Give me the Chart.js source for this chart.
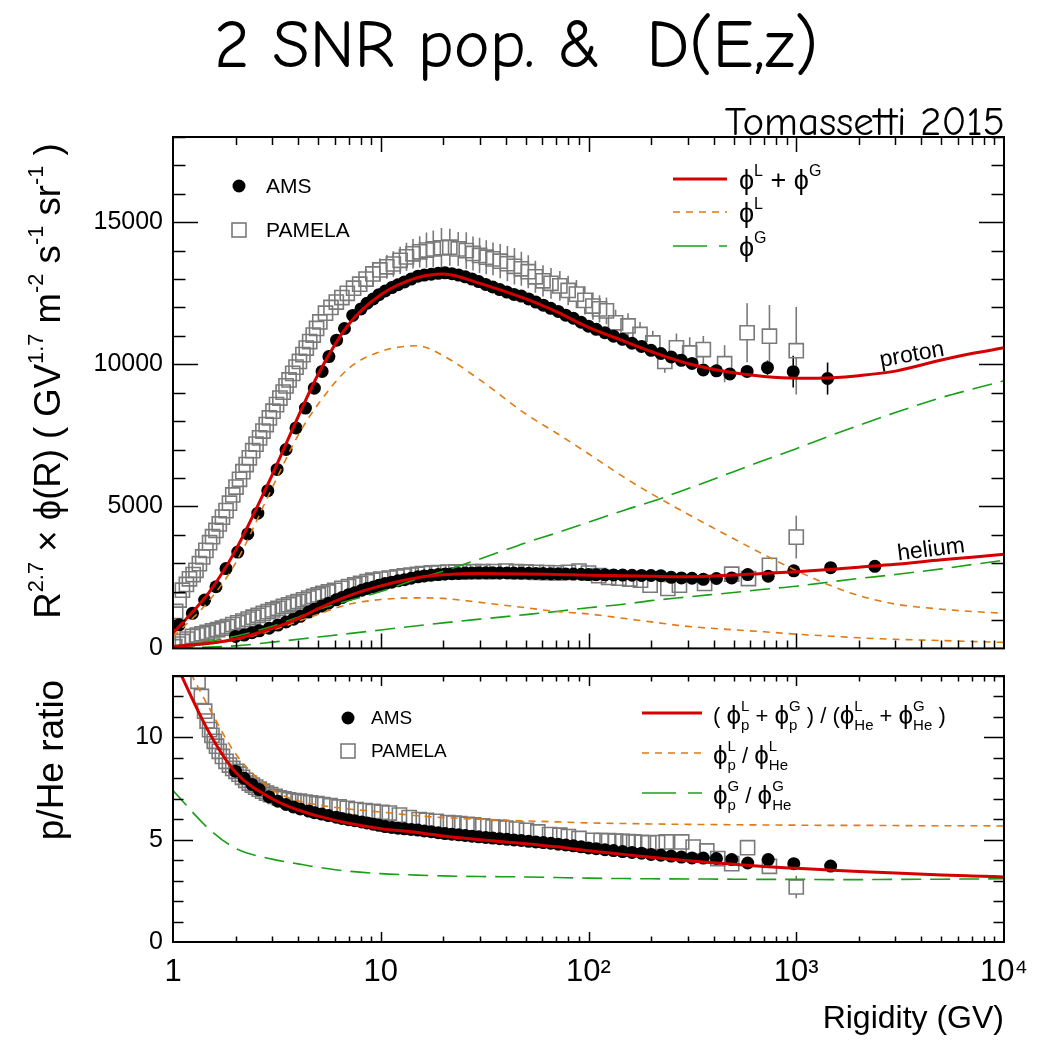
<!DOCTYPE html>
<html><head><meta charset="utf-8">
<script src="https://cdn.jsdelivr.net/npm/chart.js@4.4.1/dist/chart.umd.min.js"></script>
<style>
html,body{margin:0;padding:0;background:#fff;}
#wrap{position:relative;width:1050px;height:1041px;overflow:hidden;background:#fff;font-family:"Liberation Sans",Arial,Helvetica,sans-serif;}
canvas{position:absolute;left:0;}
#c1{top:0;}
#c2{top:660px;}
.t{position:absolute;white-space:nowrap;color:#000;line-height:1;}
.t sup{font-size:0.6em;vertical-align:0.75em;line-height:0;}
#title{left:516px;top:45px;transform:translate(-50%,-50%);font-family:"Comic Sans MS","Comic Neue","Noto Sans",sans-serif;font-size:68px;}
#auth{right:45px;top:121px;transform:translateY(-50%);font-family:"Comic Sans MS","Comic Neue","Noto Sans",sans-serif;font-size:41px;}
#ytop{left:48px;top:381px;transform:translate(-50%,-50%) rotate(-90deg);font-size:36.5px;}
#ybot{left:50px;top:760px;transform:translate(-50%,-50%) rotate(-90deg);font-size:37px;}
</style></head><body>
<div id="wrap">
<canvas id="c1" width="1050" height="660" style="width:1050px;height:660px"></canvas>
<canvas id="c2" width="1050" height="381" style="width:1050px;height:381px"></canvas>
<div class="t" id="title">2 SNR pop. &amp;&nbsp; D(E,z)</div>
<div class="t" id="auth">Tomassetti 2015</div>
<div class="t" id="ytop">R<sup>2.7</sup> × ϕ(R) ( GV<sup>1.7</sup> m<sup>-2</sup> s<sup>-1</sup> sr<sup>-1</sup> )</div>
<div class="t" id="ybot">p/He ratio</div>
</div>
<script>
// ---------------- DATA ----------------
const X_TICKS = [1, 10, 100, 1000, 10000];
const X_LABELS = ['1', '10', '10²', '10³', '10⁴'];
const Y_TICKS_TOP = [0, 5000, 10000, 15000];
const Y_TICKS_BOT = [0, 5, 10];

// model curves (rigidity grid, GV)
const R_GRID = [1,1.5,2,3,4,5,7,10,15,20,30,50,70,100,150,200,300,500,700,1000,1500,2000,3000,5000,7000,10000];
const P_TOT  = [530,2000,3450,6100,8150,9650,11400,12450,13050,13180,12850,12300,11850,11300,10800,10450,10030,9700,9570,9510,9530,9600,9760,10150,10380,10580];
const P_LOC  = [400,1700,3000,5650,7500,8600,9850,10450,10650,10300,9450,8250,7580,6850,6000,5450,4730,3860,3300,2740,2180,1860,1560,1380,1300,1240];
const P_GAL  = [80,250,430,780,1100,1370,1680,2000,2450,2720,3150,3720,4060,4440,4875,5160,5620,6220,6620,7030,7520,7850,8300,8830,9120,9420];
const HE_TOT = [70,180,330,700,1050,1400,1850,2200,2490,2590,2635,2620,2600,2577,2560,2540,2520,2580,2640,2700,2790,2860,2960,3120,3210,3310];
const HE_LOC = [60,160,300,640,950,1200,1550,1720,1780,1760,1620,1430,1300,1213,1050,935,775,655,585,500,427,373,320,276,245,210];
const HE_GAL = [15,45,90,220,320,400,520,650,800,900,1030,1190,1300,1430,1560,1680,1810,1970,2080,2190,2350,2460,2600,2800,2950,3100];
const RAT_TOT = [13.9,10.2,8.3,7.0,6.45,6.15,5.8,5.54,5.35,5.18,5.0,4.8,4.65,4.46,4.27,4.14,3.97,3.8,3.69,3.6,3.51,3.45,3.37,3.28,3.23,3.18];
const RAT_LOC = [14.8,11.4,9.2,7.45,6.9,6.7,6.5,6.35,6.17,6.08,6.0,5.92,5.87,5.82,5.79,5.77,5.75,5.73,5.72,5.71,5.70,5.70,5.69,5.68,5.68,5.67];
const RAT_GAL = [7.4,5.5,4.58,4.05,3.82,3.65,3.46,3.34,3.27,3.23,3.2,3.18,3.15,3.12,3.1,3.09,3.08,3.07,3.06,3.06,3.05,3.05,3.06,3.07,3.08,3.09];

// AMS protons
const AMS_P_R = [1.07,1.24,1.42,1.61,1.80,2.05,2.29,2.56,2.86,3.17,3.50,3.91,4.34,4.79,5.22,5.63,6.13,6.69,7.33,8.03,
 8.6,9.2,9.8,10.5,11.3,12.1,13.0,14.0,15.1,16.2,17.5,18.9,20.4,22.0,23.7,25.5,27.5,29.6,32.0,34.6,
 37.4,40.5,43.8,47.5,51.5,55.8,60.6,65.8,71.5,77.7,84.6,92.1,100,109,120,132,146,162,180,200,
 223,250,280,315,357,413,479,580,727,967,1415];
const AMS_P_V = [830,1235,1700,2170,2810,3390,4030,4760,5550,6300,7000,7760,8460,9160,9750,10270,10850,11260,11720,11950,
 12150,12300,12450,12580,12700,12800,12900,13000,13100,13140,13170,13200,13220,13190,13140,13080,13000,12910,12810,12720,
 12630,12540,12460,12400,12300,12190,12080,11970,11860,11730,11620,11480,11340,11230,11110,10990,10880,10740,10630,10490,
 10380,10260,10140,10030,9800,9770,9660,9750,9880,9740,9500];
const AMS_P_ERR_R = [580,727,967,1415];
const AMS_P_ERR   = [150,250,560,560];

// PAMELA protons
const PAM_P_R = [1.03,1.07,1.11,1.16,1.20,1.25,1.29,1.34,1.39,1.44,1.50,1.55,1.61,1.67,1.73,1.80,1.87,1.94,2.01,2.09,
 2.17,2.25,2.33,2.42,2.51,2.61,2.71,2.81,2.91,3.03,3.15,3.27,3.39,3.50,3.62,3.77,3.91,4.06,4.22,4.38,
 4.55,4.73,4.91,5.09,5.42,5.76,6.11,6.50,6.90,7.40,7.92,8.50,9.16,9.90,10.7,11.5,12.4,13.3,14.3,15.4,
 16.6,17.9,19.6,21.5,23.6,25.8,27.8,29.9,32.2,34.7,37.6,40.7,44.0,47.5,51.3,55.5,60.4,66.0,72.8,79.8,
 87.5,96.0,105,113,122,135,155,177,204,233,265,307,357,452,580,743,1000];
const PAM_P_V = [1300,1700,2050,2250,2450,2600,2750,2980,3220,3450,3720,3930,4150,4380,4620,4850,5110,5400,5680,5950,
 6220,6470,6710,6960,7190,7410,7650,7880,8110,8350,8580,8810,9020,9240,9450,9680,9900,10100,10340,10570,
 10800,11030,11260,11490,11800,12000,12190,12350,12500,12680,12820,13000,13180,13320,13430,13530,13660,13780,13890,13960,
 14020,14060,14100,14120,14060,14000,13900,13830,13770,13710,13630,13540,13450,13360,13260,13080,12940,12850,12760,12600,
 12470,12250,12050,11950,11880,11460,11350,11050,10750,10100,10580,10400,10520,10020,11110,10990,10480];
const PAM_P_ERR_R = [8.50,9.16,9.90,10.7,11.5,12.4,13.3,14.3,15.4,16.6,17.9,19.6,21.5,23.6,25.8,27.8,29.9,32.2,34.7,37.6,
 40.7,44.0,47.5,51.3,55.5,60.4,66.0,72.8,79.8,87.5,96.0,105,113,122,135,155,177,204,233,265,307,357,452,580,743,1000];
const PAM_P_ERR = [350,380,400,420,450,480,500,520,550,620,650,700,650,600,650,600,620,600,580,600,
 620,640,600,580,560,550,540,520,520,500,500,480,480,470,460,450,440,430,400,500,550,480,650,1035,1100,1540];

// AMS helium
const AMS_HE_R = [2.0,2.2,2.4,2.6,2.9,3.2,3.5,3.8,4.1,4.5,4.8,5.2,5.6,6.1,6.5,7.0,7.5,8.1,8.6,9.2,
 9.8,10.5,11.3,12.1,13.0,14.0,15.1,16.2,17.5,18.9,20.4,22.0,23.7,25.5,27.5,29.6,32.0,34.6,37.4,40.5,
 43.8,47.5,51.5,55.8,60.6,65.8,71.5,77.7,84.6,92.1,100,109,120,132,146,162,180,200,223,250,
 280,315,357,413,489,584,733,973,1464,2390];
const AMS_HE_V = [420,470,550,620,710,820,930,1030,1130,1280,1380,1490,1590,1710,1790,1890,1960,2050,2110,2160,
 2220,2280,2330,2380,2420,2470,2520,2550,2575,2600,2620,2630,2640,2650,2655,2660,2660,2660,2655,2655,
 2650,2650,2645,2640,2635,2630,2625,2620,2615,2610,2600,2595,2590,2585,2580,2575,2570,2565,2560,2500,
 2480,2470,2430,2460,2480,2600,2540,2730,2840,2890];

// PAMELA helium
const PAM_HE_R = [1.02,1.06,1.11,1.17,1.24,1.31,1.38,1.46,1.55,1.64,1.73,1.83,1.94,2.05,2.17,2.30,2.43,2.57,2.72,2.87,
 3.02,3.2,3.4,3.6,3.8,4.0,4.25,4.5,4.75,5.0,5.26,5.6,6.0,6.5,7.0,7.5,8.0,8.6,9.16,10,
 11,12,13,14,15,15.9,17.5,19,21,23,25,28,31,35,40,45,50,56,63,70,
 80,90,100,112,125,140,158,178,198,241,274,362,489,589,743,1000];
const PAM_HE_V = [60,150,245,330,420,470,515,560,615,665,710,770,840,900,960,1030,1100,1165,1230,1295,
 1353,1413,1476,1536,1594,1648,1710,1770,1830,1882,1934,1986,2045,2112,2174,2232,2287,2348,2402,2439,
 2478,2515,2549,2580,2609,2633,2655,2670,2685,2690,2695,2700,2700,2705,2720,2700,2690,2680,2670,2660,
 2680,2720,2650,2560,2500,2470,2440,2400,2227,2110,2227,2285,2611,2460,2926,3917];
const PAM_HE_ERR_R = [489,743,1000];
const PAM_HE_ERR   = [150,200,750];

// AMS p/He
const AMS_RAT_R = [2.0,2.2,2.4,2.6,2.9,3.2,3.5,3.8,4.1,4.5,4.8,5.2,5.6,6.1,6.5,7.0,7.5,8.1,8.6,9.2,
 9.8,10.5,11.3,12.1,13.0,14.0,15.1,16.2,17.5,18.9,20.4,22.0,23.7,25.5,27.5,29.6,32.0,34.6,37.4,40.5,
 43.8,47.5,51.5,55.8,60.6,65.8,71.5,77.7,84.6,92.1,100,109,120,132,146,162,180,200,223,250,
 280,315,357,413,489,584,733,973,1464];
const AMS_RAT_V = [8.35,8.0,7.7,7.45,7.1,6.88,6.72,6.6,6.5,6.4,6.32,6.25,6.18,6.1,6.04,5.98,5.93,5.87,5.82,5.76,
 5.7,5.64,5.6,5.56,5.53,5.5,5.47,5.43,5.39,5.34,5.3,5.27,5.24,5.21,5.17,5.14,5.11,5.08,5.05,5.02,
 4.99,4.96,4.92,4.89,4.86,4.83,4.78,4.74,4.7,4.65,4.6,4.56,4.51,4.47,4.42,4.38,4.34,4.28,4.24,4.2,
 4.15,4.11,4.1,4.08,4.03,3.86,4.03,3.83,3.71];

// PAMELA p/He
const PAM_RAT_R = [1.32,1.37,1.42,1.46,1.50,1.54,1.58,1.62,1.67,1.73,1.80,1.87,1.94,2.01,2.08,2.16,2.24,2.33,2.41,2.50,
 2.60,2.70,2.82,2.95,3.10,3.25,3.42,3.60,3.82,4.06,4.32,4.60,4.92,5.26,5.70,6.30,6.90,7.60,8.40,9.20,
 10.1,11.0,12.3,13.7,15.3,16.6,18.5,21,22.5,24,26,28,31,34.7,37,40,45,50.3,57,65,
 72.8,80,90,105,115,125,135,145,155,165,180,195,215,237,281,319,371,419,489,583,743,1000];
const PAM_RAT_V = [12.74,12.0,11.28,10.8,10.38,10.1,9.81,9.57,9.32,9.07,8.83,8.65,8.48,8.34,8.2,8.05,7.9,7.77,7.67,7.57,
 7.47,7.37,7.28,7.2,7.12,7.04,7.0,6.95,6.91,6.88,6.84,6.8,6.76,6.72,6.66,6.6,6.53,6.47,6.42,6.38,
 6.34,6.3,6.2,6.08,5.98,5.95,5.9,5.84,5.81,5.79,5.75,5.72,5.67,5.62,5.6,5.57,5.52,5.46,5.38,5.25,
 5.22,5.15,5.06,4.97,4.96,4.95,4.93,4.92,4.9,4.89,4.87,4.85,4.86,4.89,4.89,4.64,4.45,4.08,3.83,4.61,3.70,2.69];
const PAM_RAT_ERR_R = [583,743,1000];
const PAM_RAT_ERR   = [0.25,0.28,0.55];

// ---------------- STYLE / HELPERS ----------------
const FF = '"Liberation Sans", Arial, Helvetica, sans-serif';
Chart.defaults.font.family = FF;
Chart.defaults.color = '#000';
const RED = '#d40000', ORANGE = '#e07a12', GREEN = '#18a018', GRAY = '#7a7a7a';

const pts = (R, V) => R.map((r, i) => ({x: r, y: V[i]}));
function curve(V, color, width, dash, order) {
  return {data: pts(R_GRID, V), showLine: true, borderColor: color, backgroundColor: color,
    borderWidth: width, borderDash: dash, pointRadius: 0, pointHoverRadius: 0,
    cubicInterpolationMode: 'monotone', clip: 0, order};
}
function amsSet(R, V, errR, err) {
  return {data: pts(R, V), showLine: false, pointStyle: 'circle', pointRadius: 6.5, pointHoverRadius: 6.5,
    pointBackgroundColor: '#000', pointBorderColor: '#000', pointBorderWidth: 0, clip: 0, order: 3,
    errR: errR || [], err: err || [], errColor: '#000', errHalf: 6};
}
function pamSet(R, V, errR, err) {
  return {data: pts(R, V), showLine: false, pointStyle: 'rect', pointRadius: 10, pointHoverRadius: 10,
    pointBackgroundColor: 'rgba(0,0,0,0)', pointBorderColor: GRAY, pointBorderWidth: 1.6, clip: 0, order: 4,
    errR: errR || [], err: err || [], errColor: GRAY, errHalf: 7};
}

const errBars = {
  id: 'errBars',
  beforeDatasetsDraw(chart) {
    const {ctx, chartArea: a, scales: {x, y}} = chart;
    ctx.save();
    ctx.beginPath(); ctx.rect(a.left, a.top, a.right - a.left, a.bottom - a.top); ctx.clip();
    chart.data.datasets.forEach(ds => {
      if (!ds.errR || !ds.errR.length) return;
      ctx.strokeStyle = ds.errColor; ctx.lineWidth = 1.6;
      ds.errR.forEach((r, k) => {
        const p = ds.data.find(q => q.x === r); if (!p) return;
        const px = x.getPixelForValue(r), py = y.getPixelForValue(p.y);
        const up = y.getPixelForValue(p.y + ds.err[k]), dn = y.getPixelForValue(p.y - ds.err[k]);
        ctx.beginPath();
        if (py - ds.errHalf > up) { ctx.moveTo(px, py - ds.errHalf); ctx.lineTo(px, up); }
        if (dn > py + ds.errHalf) { ctx.moveTo(px, py + ds.errHalf); ctx.lineTo(px, dn); }
        ctx.stroke();
      });
    });
    ctx.restore();
  }
};

const frame = {
  id: 'frame',
  afterDatasetsDraw(chart, args, o) {
    const {ctx, chartArea: a, scales: {x, y}} = chart;
    ctx.save();
    ctx.strokeStyle = '#000'; ctx.lineWidth = 1.5;
    ctx.beginPath();
    for (const d of [1, 10, 100, 1000]) for (let k = 1; k <= 9; k++) {
      if (d === 1 && k === 1) continue;
      const px = Math.round(x.getPixelForValue(d * k)) + 0.5;
      const L = k === 1 ? o.xMaj : o.xMin;
      ctx.moveTo(px, a.bottom); ctx.lineTo(px, a.bottom - L);
      ctx.moveTo(px, a.top); ctx.lineTo(px, a.top + L);
    }
    const n = Math.round(o.yMax / o.yStep);
    for (let i = 1; i <= n; i++) {
      const v = i * o.yStep;
      const py = Math.round(y.getPixelForValue(v)) + 0.5;
      const major = Math.abs(v / o.yMajor - Math.round(v / o.yMajor)) < 1e-6;
      const L = major ? o.yMaj : o.yMin;
      ctx.moveTo(a.left, py); ctx.lineTo(a.left + L, py);
      ctx.moveTo(a.right, py); ctx.lineTo(a.right - L, py);
    }
    ctx.stroke();
    ctx.lineWidth = 2;
    ctx.strokeRect(a.left, a.top, a.right - a.left, a.bottom - a.top);
    ctx.restore();
  }
};

// rich text: parts [text, size, dy, mode] mode 0 normal, 1 sup(start stack), 2 sub (stacked under previous sup)
function rich(ctx, x, y, parts) {
  let cx = x, sx = x, sw = 0;
  ctx.textBaseline = 'middle'; ctx.textAlign = 'left';
  for (const [t, size, dy, mode] of parts) {
    ctx.font = size + 'px ' + FF;
    const w = ctx.measureText(t).width;
    if (mode === 2) { ctx.fillText(t, sx, y + dy); cx = sx + Math.max(sw, w); }
    else { ctx.fillText(t, cx, y + dy); if (mode === 1) { sx = cx; sw = w; } cx += w; }
  }
  return cx;
}
function lineSample(ctx, x0, x1, y, color, width, dash) {
  ctx.save(); ctx.strokeStyle = color; ctx.lineWidth = width; ctx.setLineDash(dash);
  ctx.beginPath(); ctx.moveTo(x0, y); ctx.lineTo(x1, y); ctx.stroke(); ctx.restore();
}
function markerLegend(ctx, cx, cy1, cy2, tx, size) {
  ctx.save();
  ctx.fillStyle = '#000'; ctx.beginPath(); ctx.arc(cx, cy1, 6.5, 0, Math.PI * 2); ctx.fill();
  ctx.strokeStyle = GRAY; ctx.lineWidth = 1.6; ctx.strokeRect(cx - 7, cy2 - 7, 14, 14);
  ctx.fillStyle = '#000'; ctx.font = size + 'px ' + FF; ctx.textBaseline = 'middle'; ctx.textAlign = 'left';
  ctx.fillText('AMS', tx, cy1 + 1); ctx.fillText('PAMELA', tx, cy2 + 1);
  ctx.restore();
}
const PHI = 'ϕ';

const legendTop = {
  id: 'legendTop',
  afterDraw(chart) {
    const ctx = chart.ctx;
    markerLegend(ctx, 239, 186, 230, 266, 21);
    lineSample(ctx, 673, 727, 179, RED, 3, []);
    lineSample(ctx, 673, 727, 212, ORANGE, 1.6, [7, 6]);
    lineSample(ctx, 673, 727, 246, GREEN, 1.6, [34, 12]);
    ctx.save(); ctx.fillStyle = '#000';
    rich(ctx, 739, 182, [[PHI, 27, 0, 0], ['L', 16, -10, 0], [' + ', 27, 0, 0], [PHI, 27, 0, 0], ['G', 16, -10, 0]]);
    rich(ctx, 739, 215, [[PHI, 27, 0, 0], ['L', 16, -10, 0]]);
    rich(ctx, 739, 249, [[PHI, 27, 0, 0], ['G', 16, -10, 0]]);
    ctx.font = '23px ' + FF; ctx.textAlign = 'center'; ctx.textBaseline = 'middle';
    ctx.save(); ctx.translate(912, 355); ctx.rotate(-10 * Math.PI / 180); ctx.fillText('proton', 0, 0); ctx.restore();
    ctx.save(); ctx.translate(931, 550); ctx.rotate(-7 * Math.PI / 180); ctx.fillText('helium', 0, 0); ctx.restore();
    ctx.restore();
  }
};
const legendBot = {
  id: 'legendBot',
  afterDraw(chart) {
    const ctx = chart.ctx, o = 660;
    markerLegend(ctx, 348, 718 - o, 751 - o, 371, 19);
    lineSample(ctx, 642, 702, 713 - o, RED, 3, []);
    lineSample(ctx, 642, 702, 753 - o, ORANGE, 1.6, [7, 6]);
    lineSample(ctx, 642, 702, 793 - o, GREEN, 1.6, [34, 12]);
    ctx.save(); ctx.fillStyle = '#000';
    const S = 22, P = 26, s = 15, up = -10, dn = 9;
    rich(ctx, 713, 717 - o, [['( ', S, 0, 0], [PHI, P, 0, 0], ['L', s, up, 1], ['p', s, dn, 2], [' + ', S, 0, 0],
      [PHI, P, 0, 0], ['G', s, up, 1], ['p', s, dn, 2], [' ) / (', S, 0, 0],
      [PHI, P, 0, 0], ['L', s, up, 1], ['He', s, dn, 2], [' + ', S, 0, 0],
      [PHI, P, 0, 0], ['G', s, up, 1], ['He', s, dn, 2], [' )', S, 0, 0]]);
    rich(ctx, 713, 757 - o, [[PHI, P, 0, 0], ['L', s, up, 1], ['p', s, dn, 2], [' / ', S, 0, 0],
      [PHI, P, 0, 0], ['L', s, up, 1], ['He', s, dn, 2]]);
    rich(ctx, 713, 797 - o, [[PHI, P, 0, 0], ['G', s, up, 1], ['p', s, dn, 2], [' / ', S, 0, 0],
      [PHI, P, 0, 0], ['G', s, up, 1], ['He', s, dn, 2]]);
    ctx.restore();
  }
};

function xScale(show) {
  return {
    type: 'logarithmic', min: 1, max: 10000, display: show,
    grid: {display: false, drawTicks: false}, border: {display: false},
    afterBuildTicks: sc => { sc.ticks = X_TICKS.map(v => ({value: v})); },
    afterFit: sc => { if (show) sc.height = 99; },
    ticks: {autoSkip: false, maxRotation: 0, padding: 12, font: {size: 31},
      callback: v => { const i = X_TICKS.indexOf(v); return i >= 0 ? X_LABELS[i] : ''; }},
    title: {display: show, text: 'Rigidity (GV)', align: 'end', font: {size: 32}, padding: {top: 0, bottom: 3}}
  };
}
function yScale(max, tickVals) {
  return {
    type: 'linear', min: 0, max: max,
    grid: {display: false, drawTicks: false}, border: {display: false},
    afterBuildTicks: sc => { sc.ticks = tickVals.map(v => ({value: v})); },
    afterFit: sc => { sc.width = 173; sc.paddingTop = 0; sc.paddingBottom = 0; },
    ticks: {padding: 10, font: {size: 25}, callback: v => String(v)}
  };
}
const common = {
  responsive: false, animation: false, events: [],
  plugins: {legend: {display: false}, tooltip: {enabled: false}, title: {display: false}}
};

new Chart(document.getElementById('c1'), {
  type: 'scatter',
  data: {datasets: [
    curve(P_TOT, RED, 3, [], 0), curve(HE_TOT, RED, 3, [], 0),
    curve(P_LOC, ORANGE, 1.6, [7, 6], 1), curve(HE_LOC, ORANGE, 1.6, [7, 6], 1),
    curve(P_GAL, GREEN, 1.6, [20, 9], 2), curve(HE_GAL, GREEN, 1.6, [20, 9], 2),
    amsSet(AMS_P_R, AMS_P_V, AMS_P_ERR_R, AMS_P_ERR), amsSet(AMS_HE_R, AMS_HE_V),
    pamSet(PAM_P_R, PAM_P_V, PAM_P_ERR_R, PAM_P_ERR), pamSet(PAM_HE_R, PAM_HE_V, PAM_HE_ERR_R, PAM_HE_ERR)
  ]},
  options: Object.assign({}, common, {
    layout: {padding: {left: 0, right: 46, top: 137, bottom: 8}},
    scales: {x: xScale(false), y: yScale(18000, Y_TICKS_TOP)},
    plugins: Object.assign({}, common.plugins, {frame: {xMaj: 15, xMin: 8, yMaj: 25, yMin: 12.5, yStep: 1000, yMajor: 5000, yMax: 18000}})
  }),
  plugins: [errBars, frame, legendTop]
});

new Chart(document.getElementById('c2'), {
  type: 'scatter',
  data: {datasets: [
    curve(RAT_TOT, RED, 3, [], 0),
    curve(RAT_LOC, ORANGE, 1.6, [7, 6], 1),
    curve(RAT_GAL, GREEN, 1.6, [20, 9], 2),
    amsSet(AMS_RAT_R, AMS_RAT_V),
    pamSet(PAM_RAT_R, PAM_RAT_V, PAM_RAT_ERR_R, PAM_RAT_ERR)
  ]},
  options: Object.assign({}, common, {
    layout: {padding: {left: 0, right: 46, top: 16, bottom: 0}},
    scales: {x: xScale(true), y: yScale(13, Y_TICKS_BOT)},
    plugins: Object.assign({}, common.plugins, {frame: {xMaj: 10, xMin: 5.5, yMaj: 20, yMin: 10.5, yStep: 1, yMajor: 5, yMax: 13}})
  }),
  plugins: [errBars, frame, legendBot]
});
</script>
</body></html>
